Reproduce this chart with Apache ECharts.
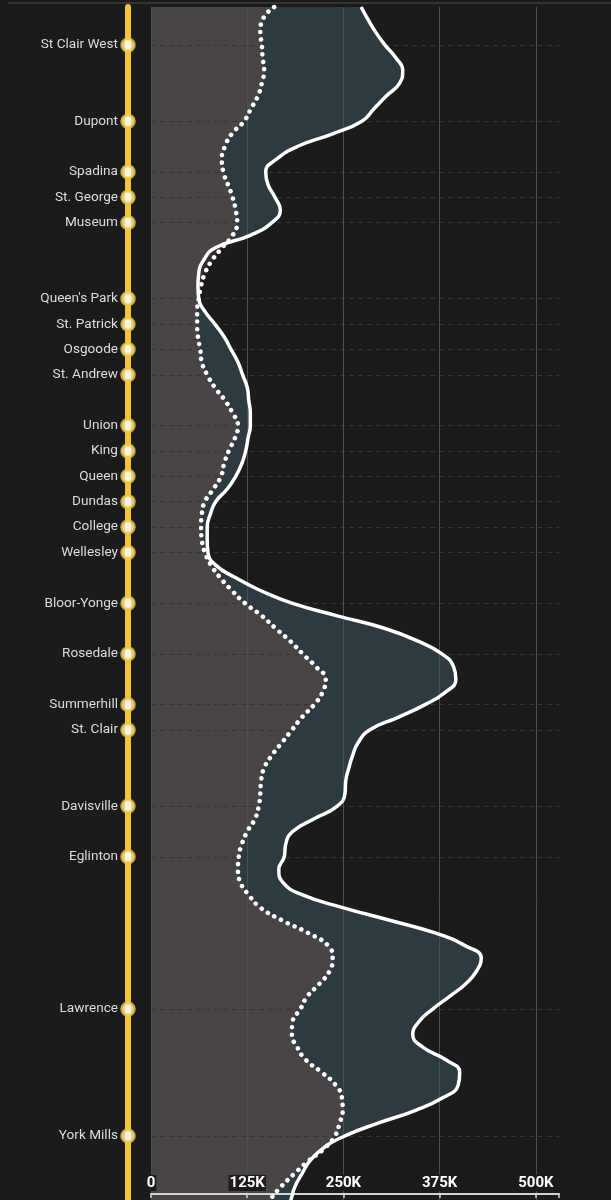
<!DOCTYPE html>
<html>
<head>
<meta charset="utf-8">
<script src="https://cdn.jsdelivr.net/npm/echarts@6/dist/echarts.min.js"></script>
<style>
  html, body { margin: 0; padding: 0; background: #1b1b1b; }
  #chart { width: 611px; height: 1200px; }
</style>
</head>
<body>
<div id="chart"></div>
<script>
// Position along the line (in station-spacing units), sampled every half unit
const positions = [
  -1.5, -1, -0.5,
  0, 0.5, 1, 1.5, 2, 2.5, 3, 3.5, 4, 4.5, 5, 5.5, 6, 6.5, 7, 7.5, 8, 8.5, 9, 9.5,
  10, 10.5, 11, 11.5, 12, 12.5, 13, 13.5, 14, 14.5, 15, 15.5, 16, 16.5, 17, 17.5, 18, 18.5, 19, 19.5,
  20, 20.5, 21, 21.5, 22, 22.5, 23, 23.5, 24, 24.5, 25, 25.5, 26, 26.5, 27, 27.5, 28, 28.5, 29, 29.5,
  30, 30.5, 31, 31.5, 32, 32.5, 33, 33.5, 34, 34.5, 35, 35.5, 36, 36.5, 37, 37.5, 38, 38.5, 39, 39.5,
  40, 40.5, 41, 41.5, 42, 42.5, 43, 43.5, 44, 44.5, 45, 45.5, 46
];

// Solid line (thousands)
const solidK = [
  273, 282, 292,
  304, 318, 327, 323, 306, 290, 274, 236, 190, 163, 149, 152, 161, 168, 157, 129, 83, 68, 62, 61,
  62, 70, 83, 95, 104, 113, 119, 125, 127, 129, 129, 126, 123, 118, 110, 99, 84, 77, 73, 73,
  74, 84, 110, 142, 183, 242, 304, 347, 378, 393, 396, 383, 356, 321, 284, 269, 262, 257, 253, 252,
  242, 212, 184, 175, 173, 166, 171, 197, 249, 310, 369, 408, 429, 423, 409, 388, 366, 348, 340, 353,
  383, 401, 399, 379, 343, 295, 252, 223, 206, 196, 187, 182, 177
];

// Dotted line (thousands)
const dottedK = [
  160, 145, 142,
  144, 145, 147, 144, 139, 130, 121, 105, 96, 92, 94, 100, 106, 110, 112, 106, 92, 79, 70, 65,
  62, 60, 60, 61, 64, 66, 73, 83, 96, 106, 113, 109, 101, 95, 91, 81, 70, 66, 65, 66,
  70, 78, 90, 105, 122, 144, 162, 181, 197, 214, 227, 223, 212, 196, 183, 170, 157, 147, 143, 142,
  140, 135, 125, 118, 114, 113, 116, 127, 142, 170, 204, 230, 236, 232, 219, 203, 194, 184, 183, 190,
  201, 222, 240, 248, 249, 245, 239, 225, 204, 186, 169, 155, 144
];

const stationNames = [
  'St Clair West', 'Dupont', 'Spadina', 'St. George', 'Museum',
  "Queen's Park", 'St. Patrick', 'Osgoode', 'St. Andrew',
  'Union', 'King', 'Queen', 'Dundas', 'College', 'Wellesley',
  'Bloor-Yonge', 'Rosedale', 'Summerhill', 'St. Clair',
  'Davisville', 'Eglinton', 'Lawrence', 'York Mills'
];
const stationPos = [0, 3, 5, 6, 7, 10, 11, 12, 13, 15, 16, 17, 18, 19, 20, 22, 24, 26, 27, 30, 32, 38, 43];

const xTickValues = [0, 125000, 250000, 375000, 500000];
const xTickLabels = ['0', '125K', '250K', '375K', '500K'];

const cats = positions.map(String);
const stationMap = {};
stationPos.forEach((p, i) => { stationMap[String(p)] = stationNames[i]; });
const isStation = (v) => Object.prototype.hasOwnProperty.call(stationMap, String(v));

const solidVals = solidK.map(v => v * 1000);
const dottedVals = dottedK.map(v => v * 1000);

const YELLOW = '#f1c53a';
const TOP = 7, HEIGHT = 1205;

const chart = echarts.init(document.getElementById('chart'), null, { renderer: 'canvas' });
chart.setOption({
  backgroundColor: '#1b1b1b',
  animation: false,
  graphic: [{
    type: 'line', z: 100,
    shape: { x1: 8, y1: 3, x2: 611, y2: 3 },
    style: { stroke: '#343434', lineWidth: 2 }
  }],
  grid: [
    { left: 151, right: 52, top: TOP, height: HEIGHT, containLabel: false, outerBoundsMode: 'none' },
    { left: 128, width: 20, top: TOP, height: HEIGHT, containLabel: false, outerBoundsMode: 'none' }
  ],
  xAxis: [
    {
      gridIndex: 0, type: 'value', min: 0, max: 530000, interval: 125000,
      position: 'bottom', offset: -18, z: 10,
      axisLine: { show: true, onZero: false, lineStyle: { color: '#d4d4d4', width: 2 } },
      axisTick: { show: true, length: 4, lineStyle: { color: '#d4d4d4', width: 1.5 } },
      axisLabel: {
        inside: true, margin: 3,
        color: '#ffffff', fontFamily: 'Roboto', fontWeight: 'bold', fontSize: 15,
        backgroundColor: '#1b1b1b', padding: [1, 1, 0, 1],
        formatter: (v) => { const i = xTickValues.indexOf(v); return i >= 0 ? xTickLabels[i] : ''; }
      },
      splitLine: { show: true, showMaxLine: false, lineStyle: { color: '#4e4e4e', width: 1 } }
    },
    { gridIndex: 1, type: 'value', min: 0, max: 1, show: false }
  ],
  yAxis: [
    {
      gridIndex: 0, type: 'category', data: cats, inverse: true, boundaryGap: false, z: 10,
      axisLine: { show: false }, axisTick: { show: false }, axisLabel: { show: false },
      splitLine: {
        show: true,
        interval: (idx, val) => isStation(val),
        lineStyle: { color: '#363636', type: [5, 4], width: 1 }
      }
    },
    {
      gridIndex: 1, type: 'category', data: cats, inverse: true, boundaryGap: false,
      axisLine: { show: true, lineStyle: { color: YELLOW, width: 6 } },
      axisTick: { show: false },
      axisLabel: {
        show: true, margin: 10, interval: (idx, val) => isStation(val),
        color: '#dcdcdc', fontFamily: 'Roboto', fontSize: 13.6,
        formatter: (val) => stationMap[val] || ''
      },
      splitLine: { show: false }
    }
  ],
  series: [
    {
      name: 'solid-area', type: 'line', data: solidVals, smooth: true, symbol: 'none', z: 2,
      lineStyle: { width: 0, opacity: 0 },
      areaStyle: { color: '#2d3a40', opacity: 1 }
    },
    {
      name: 'dotted-area', type: 'line', data: dottedVals, smooth: true, symbol: 'none', z: 3,
      lineStyle: { width: 0, opacity: 0 },
      areaStyle: { color: 'rgba(238,131,117,0.15)', opacity: 1 }
    },
    {
      name: 'dotted', type: 'line', data: dottedVals, smooth: true, symbol: 'none', z: 12,
      lineStyle: { color: '#ffffff', width: 4.6, type: [0.01, 7.5], cap: 'round' }
    },
    {
      name: 'solid', type: 'line', data: solidVals, smooth: true, symbol: 'none', z: 13,
      lineStyle: { color: '#ffffff', width: 3.5 }
    },
    {
      name: 'stations', type: 'scatter', xAxisIndex: 1, yAxisIndex: 1, clip: false, z: 20,
      data: stationPos.map(p => [0, String(p)]),
      symbol: 'circle', symbolSize: 12.5,
      itemStyle: { color: '#ffffff', borderColor: YELLOW, borderWidth: 3 }
    }
  ]
});
</script>
</body>
</html>
